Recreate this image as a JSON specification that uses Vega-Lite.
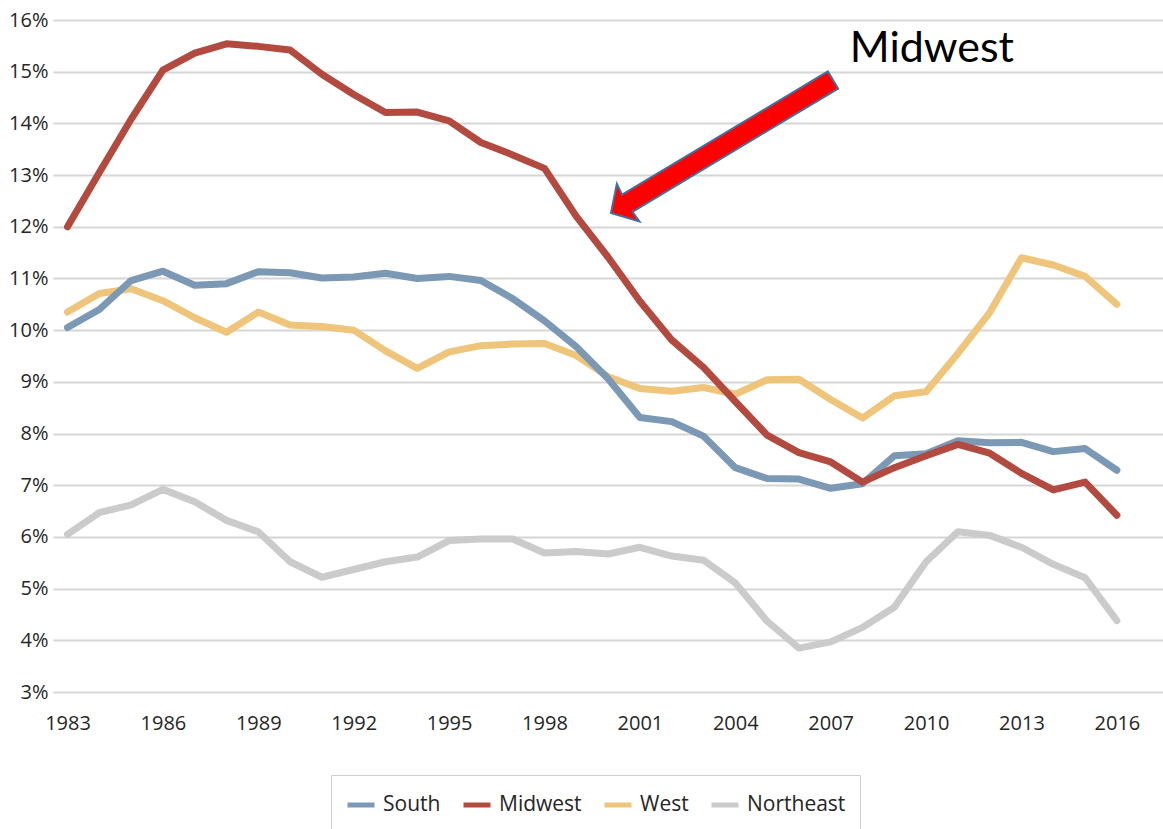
{
  "$schema": "https://vega.github.io/schema/vega-lite/v6.json",
  "autosize": "none",
  "width": 1110,
  "height": 672,
  "padding": {"left": 53, "top": 20, "right": 0, "bottom": 137},
  "background": "white",
  "config": {"view": {"stroke": null}, "font": "Open Sans"},
  "datasets": {
    "series": [
      {"year":1983,"region":"Northeast","value":6.05},{"year":1984,"region":"Northeast","value":6.47},{"year":1985,"region":"Northeast","value":6.62},{"year":1986,"region":"Northeast","value":6.92},{"year":1987,"region":"Northeast","value":6.68},{"year":1988,"region":"Northeast","value":6.32},{"year":1989,"region":"Northeast","value":6.1},{"year":1990,"region":"Northeast","value":5.52},{"year":1991,"region":"Northeast","value":5.22},{"year":1992,"region":"Northeast","value":5.37},{"year":1993,"region":"Northeast","value":5.52},{"year":1994,"region":"Northeast","value":5.61},{"year":1995,"region":"Northeast","value":5.93},{"year":1996,"region":"Northeast","value":5.96},{"year":1997,"region":"Northeast","value":5.96},{"year":1998,"region":"Northeast","value":5.69},{"year":1999,"region":"Northeast","value":5.72},{"year":2000,"region":"Northeast","value":5.67},{"year":2001,"region":"Northeast","value":5.8},{"year":2002,"region":"Northeast","value":5.63},{"year":2003,"region":"Northeast","value":5.55},{"year":2004,"region":"Northeast","value":5.11},{"year":2005,"region":"Northeast","value":4.37},{"year":2006,"region":"Northeast","value":3.85},{"year":2007,"region":"Northeast","value":3.97},{"year":2008,"region":"Northeast","value":4.25},{"year":2009,"region":"Northeast","value":4.64},{"year":2010,"region":"Northeast","value":5.52},{"year":2011,"region":"Northeast","value":6.1},{"year":2012,"region":"Northeast","value":6.03},{"year":2013,"region":"Northeast","value":5.8},{"year":2014,"region":"Northeast","value":5.47},{"year":2015,"region":"Northeast","value":5.21},{"year":2016,"region":"Northeast","value":4.38},
      {"year":1983,"region":"West","value":10.35},{"year":1984,"region":"West","value":10.71},{"year":1985,"region":"West","value":10.8},{"year":1986,"region":"West","value":10.57},{"year":1987,"region":"West","value":10.24},{"year":1988,"region":"West","value":9.96},{"year":1989,"region":"West","value":10.35},{"year":1990,"region":"West","value":10.1},{"year":1991,"region":"West","value":10.07},{"year":1992,"region":"West","value":10.0},{"year":1993,"region":"West","value":9.6},{"year":1994,"region":"West","value":9.26},{"year":1995,"region":"West","value":9.58},{"year":1996,"region":"West","value":9.7},{"year":1997,"region":"West","value":9.73},{"year":1998,"region":"West","value":9.74},{"year":1999,"region":"West","value":9.51},{"year":2000,"region":"West","value":9.1},{"year":2001,"region":"West","value":8.87},{"year":2002,"region":"West","value":8.82},{"year":2003,"region":"West","value":8.89},{"year":2004,"region":"West","value":8.76},{"year":2005,"region":"West","value":9.04},{"year":2006,"region":"West","value":9.05},{"year":2007,"region":"West","value":8.66},{"year":2008,"region":"West","value":8.3},{"year":2009,"region":"West","value":8.73},{"year":2010,"region":"West","value":8.81},{"year":2011,"region":"West","value":9.55},{"year":2012,"region":"West","value":10.34},{"year":2013,"region":"West","value":11.4},{"year":2014,"region":"West","value":11.26},{"year":2015,"region":"West","value":11.04},{"year":2016,"region":"West","value":10.5},
      {"year":1983,"region":"South","value":10.05},{"year":1984,"region":"South","value":10.4},{"year":1985,"region":"South","value":10.96},{"year":1986,"region":"South","value":11.14},{"year":1987,"region":"South","value":10.87},{"year":1988,"region":"South","value":10.9},{"year":1989,"region":"South","value":11.13},{"year":1990,"region":"South","value":11.11},{"year":1991,"region":"South","value":11.01},{"year":1992,"region":"South","value":11.03},{"year":1993,"region":"South","value":11.1},{"year":1994,"region":"South","value":11.0},{"year":1995,"region":"South","value":11.04},{"year":1996,"region":"South","value":10.96},{"year":1997,"region":"South","value":10.61},{"year":1998,"region":"South","value":10.18},{"year":1999,"region":"South","value":9.68},{"year":2000,"region":"South","value":9.06},{"year":2001,"region":"South","value":8.31},{"year":2002,"region":"South","value":8.23},{"year":2003,"region":"South","value":7.95},{"year":2004,"region":"South","value":7.34},{"year":2005,"region":"South","value":7.13},{"year":2006,"region":"South","value":7.12},{"year":2007,"region":"South","value":6.94},{"year":2008,"region":"South","value":7.03},{"year":2009,"region":"South","value":7.57},{"year":2010,"region":"South","value":7.61},{"year":2011,"region":"South","value":7.86},{"year":2012,"region":"South","value":7.82},{"year":2013,"region":"South","value":7.83},{"year":2014,"region":"South","value":7.65},{"year":2015,"region":"South","value":7.71},{"year":2016,"region":"South","value":7.29},
      {"year":1983,"region":"Midwest","value":12.0},{"year":1984,"region":"Midwest","value":13.05},{"year":1985,"region":"Midwest","value":14.08},{"year":1986,"region":"Midwest","value":15.03},{"year":1987,"region":"Midwest","value":15.36},{"year":1988,"region":"Midwest","value":15.54},{"year":1989,"region":"Midwest","value":15.49},{"year":1990,"region":"Midwest","value":15.42},{"year":1991,"region":"Midwest","value":14.95},{"year":1992,"region":"Midwest","value":14.56},{"year":1993,"region":"Midwest","value":14.21},{"year":1994,"region":"Midwest","value":14.22},{"year":1995,"region":"Midwest","value":14.05},{"year":1996,"region":"Midwest","value":13.63},{"year":1997,"region":"Midwest","value":13.39},{"year":1998,"region":"Midwest","value":13.13},{"year":1999,"region":"Midwest","value":12.2},{"year":2000,"region":"Midwest","value":11.41},{"year":2001,"region":"Midwest","value":10.56},{"year":2002,"region":"Midwest","value":9.81},{"year":2003,"region":"Midwest","value":9.28},{"year":2004,"region":"Midwest","value":8.62},{"year":2005,"region":"Midwest","value":7.97},{"year":2006,"region":"Midwest","value":7.63},{"year":2007,"region":"Midwest","value":7.45},{"year":2008,"region":"Midwest","value":7.06},{"year":2009,"region":"Midwest","value":7.34},{"year":2010,"region":"Midwest","value":7.57},{"year":2011,"region":"Midwest","value":7.79},{"year":2012,"region":"Midwest","value":7.62},{"year":2013,"region":"Midwest","value":7.23},{"year":2014,"region":"Midwest","value":6.91},{"year":2015,"region":"Midwest","value":7.06},{"year":2016,"region":"Midwest","value":6.42}
    ],
    "arrow": [
      {"i":0,"year":2000.091,"value":12.267},
      {"i":1,"year":2000.275,"value":12.831},
      {"i":2,"year":2000.442,"value":12.622},
      {"i":3,"year":2006.911,"value":15.005},
      {"i":4,"year":2007.234,"value":14.674},
      {"i":5,"year":2000.765,"value":12.290},
      {"i":6,"year":2000.987,"value":12.101}
    ],
    "note": [{"year":2007.6,"value":15.19,"label":"Midwest"}]
  },
  "layer": [
    {
      "data": {"name": "series"},
      "mark": {"type": "line", "strokeWidth": 7, "strokeCap": "round", "strokeJoin": "round"},
      "encoding": {
        "x": {
          "field": "year", "type": "quantitative",
          "scale": {"domain": [1982.544, 2017.45], "nice": false, "zero": false},
          "axis": {
            "title": null,
            "values": [1983,1986,1989,1992,1995,1998,2001,2004,2007,2010,2013,2016],
            "format": "d",
            "grid": false, "domain": false, "ticks": false, "tickSize": 0,
            "labelFlush": false, "labelOverlap": false,
            "labelFontSize": 20, "labelFont": "Open Sans", "labelColor": "#262626",
            "labelBaseline": "middle", "labelPadding": 31
          }
        },
        "y": {
          "field": "value", "type": "quantitative",
          "scale": {"domain": [3, 16], "nice": false, "zero": false},
          "axis": {
            "title": null,
            "values": [3,4,5,6,7,8,9,10,11,12,13,14,15,16],
            "labelExpr": "datum.value + '%'",
            "grid": true, "gridColor": "#d6d6d6", "gridWidth": 2,
            "domain": false, "ticks": false, "tickSize": 0,
            "labelFlush": false, "labelOverlap": false,
            "labelFontSize": 20, "labelFont": "Open Sans", "labelColor": "#262626",
            "labelPadding": 5
          }
        },
        "color": {
          "field": "region", "type": "nominal",
          "scale": {
            "domain": ["South", "Midwest", "West", "Northeast"],
            "range": ["#7b98b4", "#b24a3f", "#efc47b", "#cbcbcb"]
          },
          "legend": {
            "title": null,
            "orient": "none",
            "direction": "horizontal",
            "legendX": 278,
            "legendY": 755,
            "padding": 14,
            "strokeColor": "#cfcfcf",
            "fillColor": "white",
            "symbolType": "stroke",
            "symbolSize": 729,
            "symbolStrokeWidth": 5,
            "labelFontSize": 21,
            "labelFont": "Open Sans",
            "labelColor": "#262626",
            "labelOffset": 6,
            "columnPadding": 12
          }
        }
      }
    },
    {
      "data": {"name": "arrow"},
      "mark": {"type": "line", "fill": "#ff0000", "stroke": "#41719c", "strokeWidth": 2, "interpolate": "linear-closed", "strokeJoin": "miter"},
      "encoding": {
        "x": {"field": "year", "type": "quantitative"},
        "y": {"field": "value", "type": "quantitative"},
        "order": {"field": "i", "type": "quantitative"}
      }
    },
    {
      "data": {"name": "note"},
      "mark": {"type": "text", "align": "left", "baseline": "alphabetic", "font": "Lato", "fontSize": 43, "color": "#000000"},
      "encoding": {
        "x": {"field": "year", "type": "quantitative"},
        "y": {"field": "value", "type": "quantitative"},
        "text": {"field": "label"}
      }
    }
  ]
}
